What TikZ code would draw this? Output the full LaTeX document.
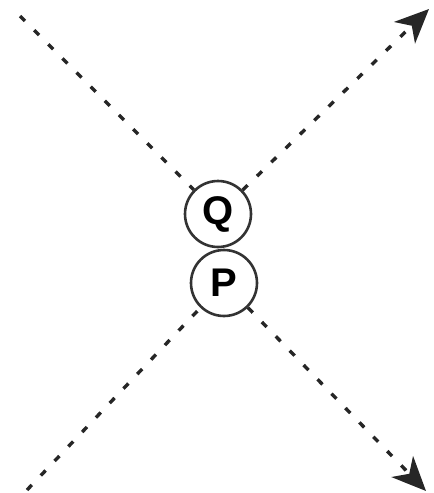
\documentclass[tikz,border=0pt]{standalone}
\usepackage{fontspec}
\setmainfont{Liberation Sans}
\usetikzlibrary{arrows.meta}
\begin{document}
\begin{tikzpicture}[x=1pt,y=-1pt,
  particle/.style={circle,draw=black!80,line width=2.6pt,minimum size=66pt,inner sep=0pt,
    font=\fontsize{40}{40}\selectfont\bfseries},
  ray/.style={line width=3.4pt,dash pattern=on 7pt off 13pt,black!85},
  tip/.style={-{Stealth[length=34pt,width=30pt,inset=10pt]}}]
  \useasboundingbox (0,0) rectangle (434,493);
  \node[particle] (Q) at (218,214) {Q};
  \node[particle] (P) at (224,283) {P};
  \coordinate (tl) at (20,16);
  \coordinate (tr) at (429,9);
  \coordinate (bl) at (27,490);
  \coordinate (br) at (426,491);
  \draw[ray] (tl) -- (Q);
  \draw[ray,tip] (Q) -- (tr);
  \draw[ray] (bl) -- (P);
  \draw[ray,tip] (P) -- (br);
\end{tikzpicture}
\end{document}
